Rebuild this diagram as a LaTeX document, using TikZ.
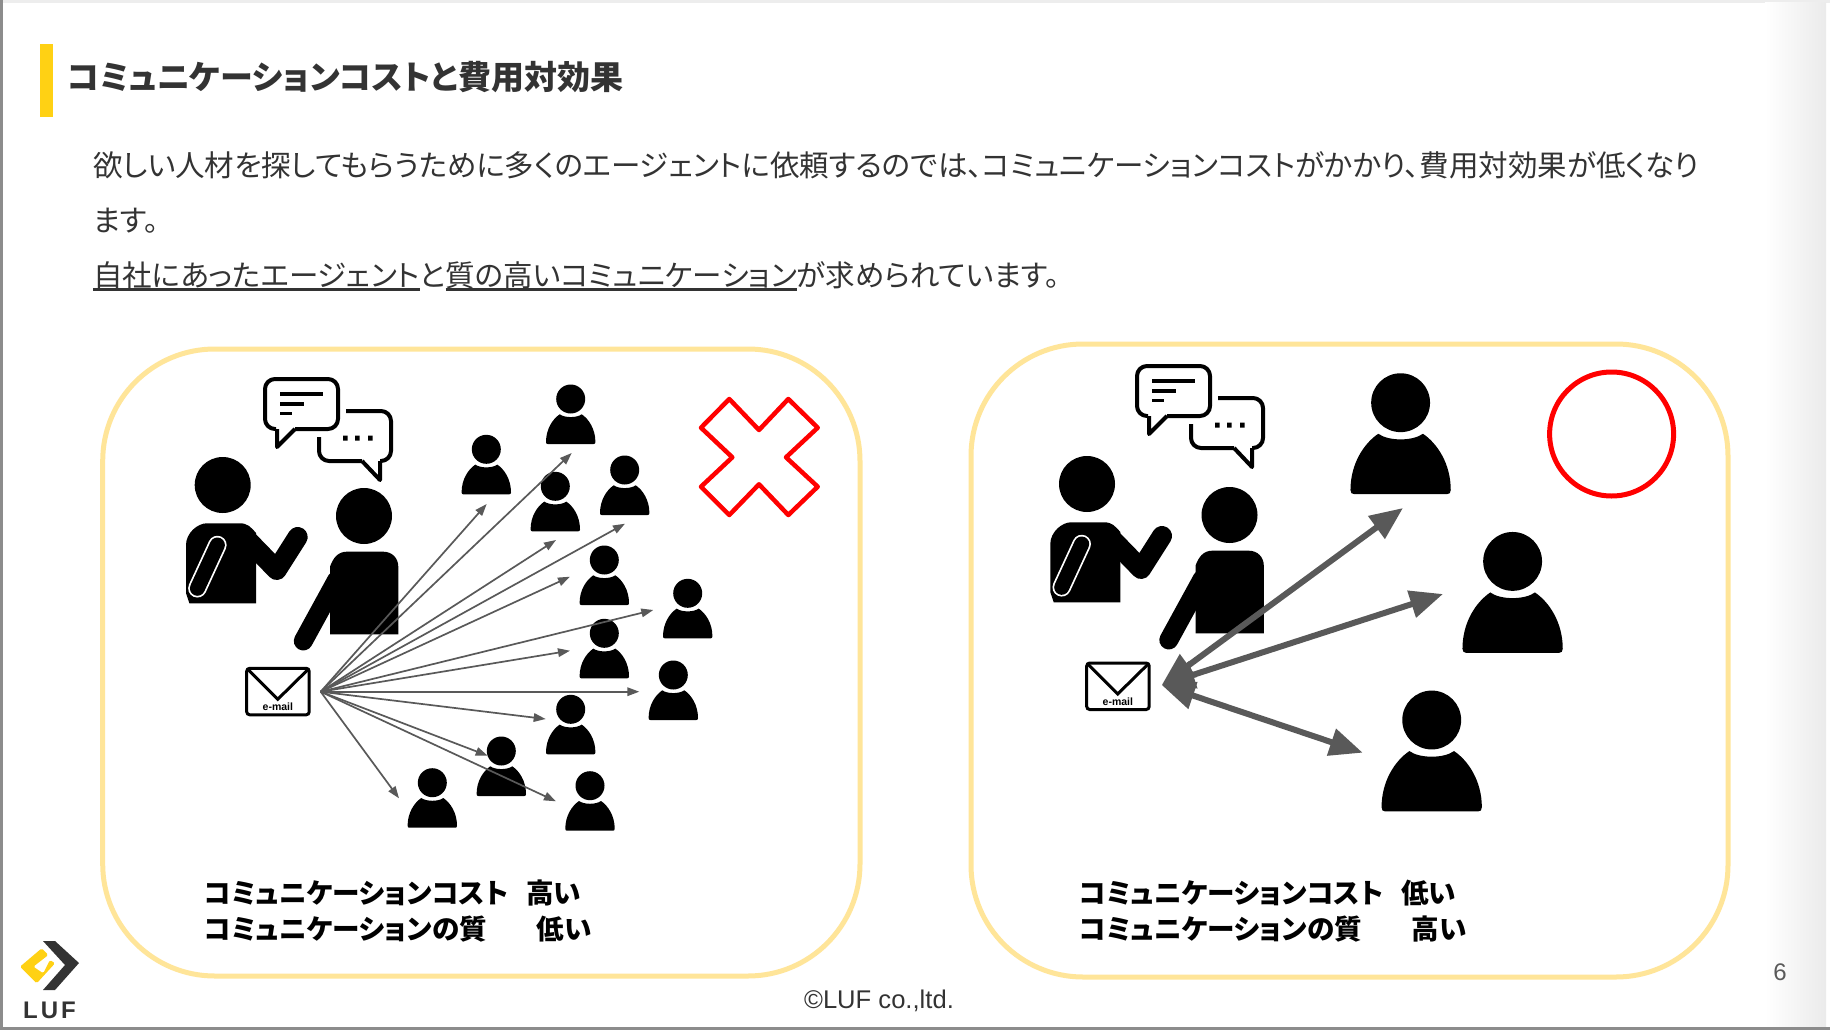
\documentclass[tikz,border=0pt]{standalone}
\usepackage{fontspec}
\setmainfont[RawFeature=+palt]{Noto Sans CJK JP}
\newfontfamily\latinfont{Liberation Sans}
\definecolor{lufYellow}{RGB}{255,209,20}
\definecolor{lufDark}{RGB}{51,51,51}
\definecolor{panelYellow}{RGB}{255,229,153}
\definecolor{arrowGray}{RGB}{89,89,89}
\definecolor{bodyGray}{RGB}{51,51,51}
\definecolor{frameGray}{RGB}{140,140,140}
\usetikzlibrary{arrows.meta,positioning,calc}

\newcommand{\thickul}[1]{\setbox0\hbox{#1}\rlap{\rule[-4.5pt]{\wd0}{2.4pt}}\box0}

\tikzset{
  bodytext/.style={anchor=base west, inner sep=0pt, text=bodyGray, font=\fontsize{29.5}{29.5}\selectfont},
  labeltext/.style={anchor=base west, inner sep=0pt, font=\fontsize{27.6}{27.6}\selectfont\bfseries},
  panelbox/.style={draw=panelYellow, line width=5pt, rounded corners=112pt},
  fanarrow/.style={draw=arrowGray, line width=1.7pt, -{Triangle[length=12pt,width=8.5pt]}},
  bigarrow/.style={draw=arrowGray, line width=6pt, {Triangle[length=33pt,width=27pt]}-{Triangle[length=33pt,width=27pt]}},
  personicon/.pic={
    \fill (0,0) circle (14.5);
    \fill (-24.7,43) .. controls (-24.7,30) and (-18,20) .. (-11,15.3)
      .. controls (-6,19) and (6,19) .. (11,15.3)
      .. controls (18,20) and (24.7,30) .. (24.7,43)
      .. controls (24.7,44.5) and (24,45) .. (23,45) -- (-23,45)
      .. controls (-24,45) and (-24.7,44.5) .. (-24.7,43) -- cycle;
  },
  talkerone/.pic={
    \fill (0,0) circle (28);
    \fill (-33.3,118.3) -- (-36.7,108) -- (-36.7,60) .. controls (-36.7,48) and (-25,38.3) .. (-16,38.3)
      -- (17,38.3) .. controls (25,38.3) and (28,42) .. (33.3,48) -- (33.3,118.3) -- cycle;
    \draw[line width=20pt, line cap=round, line join=round] (20,50) -- (54,85) -- (75,52);
    \draw[white, line width=18.5pt, line cap=round] (-5.3,60) -- (-25.3,103.3);
    \draw[black, line width=15pt, line cap=round] (-5.3,60) -- (-25.3,103.3);
  },
  talkertwo/.pic={
    \fill (0,0) circle (28);
    \fill (34.3,118.3) -- (-34,118.3) -- (-34,50.7) .. controls (-31,42) and (-26,35.7) .. (-17.3,35.7)
      -- (19.3,35.7) .. controls (28,35.7) and (34.3,42) .. (34.3,50.7) -- cycle;
    \draw[line width=19pt, line cap=round] (-27.3,64) -- (-60.7,125);
  },
  bubbles/.pic={
    \draw[line width=4pt, line join=round, rounded corners=10pt] (11,50) -- (0,50) -- (0,0) -- (73,0) -- (73,50) -- (30,50);
    \draw[line width=4pt, line join=round] (30,50) -- (12,68) -- (12,50);
    \draw[line width=3.4pt] (15,15) -- (58,15) (15,25) -- (39,25) (15,34.5) -- (27,34.5);
    \draw[line width=4pt, line join=round, rounded corners=10pt] (81,32) -- (126,32) -- (126,82) -- (115,82);
    \draw[line width=4pt, line join=round] (115,82) -- (115,101) -- (97,82);
    \draw[line width=4pt, line join=round, rounded corners=10pt] (97,82) -- (54,82) -- (54,58);
    \fill (78,56.5) rectangle +(4.5,5) (90,56.5) rectangle +(4.5,5) (103,56.5) rectangle +(4.5,5);
  },
  mailicon/.pic={
    \draw[line width=3pt, rounded corners=3pt] (0,0) rectangle (62.5,46.5);
    \draw[line width=3pt] (0.5,0.5) -- (31,31) -- (62,0.5);
    \node[inner sep=0pt, font=\latinfont\fontsize{10.5}{10.5}\selectfont\bfseries] (-mailtext) at (31.2,38.5) {e-mail};
  }
}

\begin{document}
\begin{tikzpicture}[x=1pt, y=-1pt]
  \useasboundingbox (0,0) rectangle (1830,1030);
  \fill[white] (0,0) rectangle (1830,1030);
  % slide edge
  \fill[black!7] (0,0) rectangle (1830,3);
  \shade[left color=white, right color=black!8] (1765,3) rectangle (1826,1026);
  \fill[frameGray] (0,0) rectangle (2.5,1030);
  \fill[frameGray] (0,1026.5) rectangle (1830,1030);

  % header
  \fill[lufYellow] (40,44) rectangle (52.7,116.7);
  \node[anchor=base west, inner sep=0pt, font=\fontsize{33}{33}\selectfont\bfseries, text=bodyGray] (title) at (67,89.5) {コミュニケーションコストと費用対効果};
  \node[bodytext] (line1) at (93,176.5) {欲しい人材を探してもらうために多くのエージェントに依頼するのでは、コミュニケーションコストがかかり、費用対効果が低くなり};
  \node[bodytext] (line2) at (93,231.5) {ます。};
  \node[bodytext] (line3) at (93,286) {\thickul{自社にあったエージェント}と\thickul{質の高いコミュニケーション}が求められています。};

  \draw[panelbox] (102.7,349) rectangle (860,976);
  \draw[panelbox] (971,344) rectangle (1728,977);

  % left panel
  \pic (leftA) at (222.7,485) {talkerone};
  \pic (leftB) at (364,516) {talkertwo};
  \pic (leftTalk) at (265,379) {bubbles};
  \pic (leftMail) at (246.7,668.3) {mailicon};
  \pic (p1) at (570.7,399) {personicon};
  \pic (p2) at (486.3,449.3) {personicon};
  \pic (p3) at (555.3,486.3) {personicon};
  \pic (p4) at (624.7,470) {personicon};
  \pic (p5) at (604.3,560) {personicon};
  \pic (p6) at (687.7,593.3) {personicon};
  \pic (p7) at (604.3,633.3) {personicon};
  \pic (p8) at (673.3,675) {personicon};
  \pic (p9) at (570.7,709.3) {personicon};
  \pic (p10) at (501.3,751) {personicon};
  \pic (p11) at (432.3,782.7) {personicon};
  \pic (p12) at (590,785.7) {personicon};

  \coordinate (fanL) at (320.7,691.7);
  \coordinate (t1) at (486.7,504);
  \coordinate (t2) at (571.7,453);
  \coordinate (t3) at (556,540);
  \coordinate (t4) at (625,523.7);
  \coordinate (t5) at (570,576.7);
  \coordinate (t6) at (653.3,610);
  \coordinate (t7) at (570,650.7);
  \coordinate (t8) at (639.3,691.7);
  \coordinate (t9) at (545.7,719);
  \coordinate (t10) at (487.7,755.7);
  \coordinate (t11) at (556,801.3);
  \coordinate (t12) at (399,798.3);
  \draw[fanarrow] (fanL) -- (t1);
  \draw[fanarrow] (fanL) -- (t2);
  \draw[fanarrow] (fanL) -- (t3);
  \draw[fanarrow] (fanL) -- (t4);
  \draw[fanarrow] (fanL) -- (t5);
  \draw[fanarrow] (fanL) -- (t6);
  \draw[fanarrow] (fanL) -- (t7);
  \draw[fanarrow] (fanL) -- (t8);
  \draw[fanarrow] (fanL) -- (t9);
  \draw[fanarrow] (fanL) -- (t10);
  \draw[fanarrow] (fanL) -- (t11);
  \draw[fanarrow] (fanL) -- (t12);

  \draw[red, line width=4.5pt, line join=round] (729.3,399) -- (759,430) -- (788.3,399) -- (817.7,427.7) -- (786,457.3) -- (817.7,486.7) -- (788.3,515) -- (759,484.3) -- (729.3,515) -- (701,486.7) -- (732.3,457.3) -- (701,427.7) -- cycle;
  \node[labeltext] (costL) at (204,903) {コミュニケーションコスト\hspace{18pt}高い};
  \node[labeltext] (qualL) at (204,939) {コミュニケーションの質\hspace{50pt}低い};

  % right panel
  \pic (rightA) at (1087,484) {talkerone};
  \pic (rightB) at (1229.5,515) {talkertwo};
  \pic (rightTalk) at (1137,366) {bubbles};
  \pic (rightMail) at (1086.7,663) {mailicon};
  \pic[scale=2.03] (q1) at (1400.6,402.7) {personicon};
  \pic[scale=2.03] (q2) at (1512.6,561.4) {personicon};
  \pic[scale=2.03] (q3) at (1431.7,720) {personicon};

  \coordinate (fanR) at (1161.7,685);
  \coordinate (u1) at (1403,508);
  \coordinate (u2) at (1443,594);
  \coordinate (u3) at (1362.7,752.7);
  \draw[bigarrow] (fanR) -- (u1);
  \draw[bigarrow] (fanR) -- (u2);
  \draw[bigarrow] (fanR) -- (u3);

  \draw[red, line width=5pt] (1611.6,434) circle (62);
  \node[labeltext] (costR) at (1079,903) {コミュニケーションコスト\hspace{18pt}低い};
  \node[labeltext] (qualR) at (1079,939) {コミュニケーションの質\hspace{50pt}高い};

  % footer
  \node[inner sep=0pt, font=\latinfont\fontsize{25.6}{25.6}\selectfont, text=lufDark] (copy) at (879,1001) {©LUF co.,ltd.};
  \node[inner sep=0pt, font=\latinfont\fontsize{24}{24}\selectfont, text=arrowGray] (pageno) at (1780,972) {6};

  % logo
  \fill[lufDark] (43,941) -- (55,941) -- (79,963) -- (55,990) -- (43,990) -- (65,965) -- cycle;
  \fill[lufYellow, rounded corners=1.5pt] (20,966.7) -- (41.7,948.3) -- (48.3,955) -- (33.3,966.7) -- (43.3,973.3) -- (50,960) -- (55,963.3) -- (36.7,983.3) -- cycle;
  \node[inner sep=0pt, font=\latinfont\fontsize{24}{24}\selectfont\bfseries, text=lufDark] (logotext) at (49.5,1010) {L\hspace{3pt}U\hspace{3pt}F};
\end{tikzpicture}
\end{document}
